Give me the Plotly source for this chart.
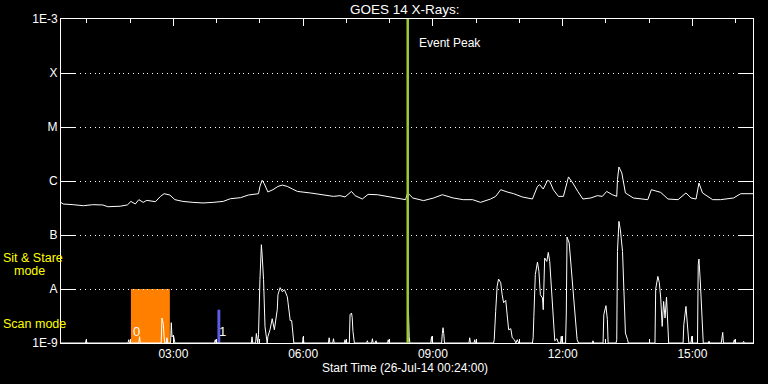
import math
import plotly.graph_objects as go

DAY = "2014-07-26 "
BASE = 1.0e-9

# ---- GOES long channel (1-8 A), W/m^2 ----
long_time = ["00:24","00:27","00:41","00:55","01:08","01:22","01:29","01:46","01:56","02:01",
             "02:07","02:12","02:18","02:23","02:35","02:42","02:47","02:55","03:02","03:13",
             "03:27","03:41","03:55","04:09","04:19","04:33","04:44","04:58","05:00","05:03",
             "05:06","05:11","05:18","05:25","05:31","05:38","05:45","05:52","06:10","06:28",
             "06:42","06:51","06:58","07:07","07:12","07:22","07:30","07:43","07:57","08:11",
             "08:22","08:25","08:32","08:47","09:01","09:13","09:28","09:42","09:55","10:06",
             "10:20","10:27","10:34","10:43","10:52","11:04","11:18","11:25","11:28","11:33",
             "11:39","11:42","11:47","11:54","12:01","12:08","12:14","12:21","12:28","12:39",
             "12:48","12:55","13:01","13:09","13:15","13:16","13:18","13:22","13:27","13:38",
             "13:58","14:03","14:12","14:16","14:26","14:40","14:51","14:58","15:05","15:09",
             "15:14","15:28","15:39","15:50","15:57","16:07","16:21","16:24"]
long_flux = [4.0e-7,3.75e-7,3.64e-7,3.49e-7,3.64e-7,3.6e-7,3.34e-7,3.41e-7,3.6e-7,4.19e-7,
             3.75e-7,4.51e-7,4.02e-7,4.38e-7,4.14e-7,5.19e-7,5.82e-7,5.5e-7,4.51e-7,4.19e-7,
             4.02e-7,3.92e-7,4.02e-7,4.19e-7,4.7e-7,4.91e-7,5.5e-7,5.82e-7,7.94e-7,1.03e-6,
             8.9e-7,6.26e-7,6.9e-7,7.94e-7,8.4e-7,7.94e-7,7.11e-7,6.41e-7,6.0e-7,5.57e-7,
             5.19e-7,5.35e-7,5.06e-7,6.41e-7,5.35e-7,4.64e-7,5.65e-7,5.57e-7,5.19e-7,4.85e-7,
             4.51e-7,6.0e-7,4.85e-7,4.33e-7,4.85e-7,5.57e-7,4.85e-7,4.51e-7,4.51e-7,4.02e-7,
             4.64e-7,5.19e-7,6.9e-7,6.26e-7,5.82e-7,5.06e-7,4.64e-7,7.94e-7,8.53e-7,7.11e-7,
             1.03e-6,9.85e-7,6.9e-7,5.19e-7,5.19e-7,1.19e-6,9.18e-7,6.41e-7,4.64e-7,4.85e-7,
             5.35e-7,5.19e-7,6.41e-7,5.57e-7,5.19e-7,1.06e-6,1.82e-6,1.41e-6,6.0e-7,4.85e-7,
             4.51e-7,6.9e-7,6.41e-7,6.15e-7,4.64e-7,4.51e-7,6.0e-7,4.85e-7,4.64e-7,9.18e-7,
             6.0e-7,4.51e-7,4.51e-7,4.64e-7,4.85e-7,5.82e-7,5.82e-7,5.82e-7]

# ---- GOES short channel (0.5-4 A), W/m^2 ----
B = BASE
short_time = [
    "00:24","00:58","00:59","01:00",
    "01:57","01:58","01:59",
    "02:12","02:13","02:14",
    "02:43","02:44","02:45","02:46","02:47","02:48",
    "02:50","02:51","02:52",
    "02:56","02:57","02:58","03:00","03:02",
    "03:57","03:58","03:59",
    "04:48","04:49","04:50",
    "04:54","04:55","04:57",
    "04:58","05:00","05:02","05:03","05:05","05:07","05:10",
    "05:11","05:14","05:17","05:20","05:24","05:25","05:28","05:31","05:34","05:38","05:39","05:42","05:44","05:46","05:47",
    "05:59","06:00","06:01",
    "06:35","06:36","06:37",
    "06:41","06:42","06:43",
    "06:57","06:58","06:59",
    "07:04","07:05","07:07","07:08","07:09","07:11",
    "07:28","07:29","07:30",
    "07:35","07:36","07:37",
    "07:40","07:41","07:42",
    "07:57","07:58","07:59",
    "08:25","08:26","08:27","08:28",
    "08:57","08:58","08:59",
    "09:12","09:13","09:14","09:15","09:16",
    "09:50","09:51","09:52",
    "09:57","09:58","09:59",
    "10:24","10:25","10:27","10:29","10:31","10:34","10:36","10:38","10:41","10:43","10:45","10:48","10:50","10:53","10:55","10:57","10:59",
    "11:18","11:19","11:20","11:22","11:25","11:27","11:29","11:32","11:33","11:35","11:38","11:40","11:42","11:45","11:47","11:49","11:52","11:54",
    "11:57","11:58","11:59",
    "12:04","12:05","12:06","12:09","12:11","12:13","12:16","12:18","12:20","12:22",
    "12:41","12:42","12:43",
    "12:56","12:57","13:00","13:02","13:03",
    "13:14","13:15","13:16","13:18","13:20","13:23","13:25","13:27","13:30","13:31",
    "14:08","14:09","14:12","14:14","14:16","14:18","14:20","14:22","14:24","14:26","14:27",
    "14:47","14:48","14:51","14:53","14:55",
    "14:58","14:59","15:00",
    "15:07","15:08","15:09","15:11","15:14","15:15",
    "15:22","15:23","15:24",
    "15:40","15:42","15:43",
    "15:57","15:58","15:59",
    "16:10","16:11","16:12",
    "16:24"]
short_flux = [
    B, B, 1.15e-9, B,
    B, 1.15e-9, B,
    B, 1.31e-9, B,
    B, 2.9e-9, 2.6e-9, 2.2e-9, 1.3e-9, B,
    B, 1.25e-9, B,
    B, 2.38e-9, 1.3e-9, 1.4e-9, B,
    B, 1.15e-9, B,
    B, 1.3e-9, B,
    B, 1.5e-9, B,
    1.42e-9, 1.49e-8, 6.61e-8, 4.32e-8, 1.49e-8, 2.0e-9, B,
    1.31e-9, 1.76e-9, 2.82e-9, 1.76e-9, 4.14e-9, 7.84e-9, 1.06e-8, 8.91e-9, 9.7e-9, 7.18e-9, 5.57e-9, 2.6e-9, 2.6e-9, 1.25e-9, B,
    B, 1.3e-9, B,
    B, 1.25e-9, B,
    B, 1.2e-9, B,
    B, 1.15e-9, B,
    B, 3.34e-9, 3.59e-9, 2.94e-9, 1.64e-9, B,
    B, 1.1e-9, B,
    B, 1.2e-9, B,
    B, 1.1e-9, B,
    B, 1.15e-9, B,
    B, 3.96e-9, 1.3e-9, B,
    B, 1.31e-9, B,
    B, 1.5e-9, 1.92e-9, 1.5e-9, B,
    B, 1.25e-9, B,
    B, 1.15e-9, B,
    B, 1.15e-9, 3.85e-9, 1.1e-8, 1.53e-8, 1.31e-8, 7.84e-9, 5.57e-9, 6.15e-9, 3.34e-9, 1.76e-9, 1.84e-9, 1.25e-9, 1.15e-9, B, 1.15e-9, B,
    B, 1.25e-9, 3.11e-9, 1.84e-8, 3.16e-8, 2.12e-8, 7.84e-9, 6.81e-9, 4.14e-9, 3.75e-8, 3.24e-8, 4.76e-8, 3.24e-8, 6.81e-9, 2.7e-9, 1.1e-9, 1.2e-9, B,
    B, 1.33e-9, B,
    B, 3.59e-9, 9.18e-8, 7.11e-8, 3.49e-8, 1.98e-8, 6.81e-9, 2.51e-9, 1.15e-9, B,
    B, 1.1e-9, B,
    B, 3.34e-9, 4.91e-9, 2.7e-9, B,
    B, 1.15e-9, 4.97e-8, 1.79e-7, 1.25e-7, 4.97e-8, 5.5e-9, 1.53e-9, 1.15e-9, B,
    B, 1.0e-8, 1.71e-8, 1.32e-8, 6.81e-9, 2.03e-9, 5.89e-9, 2.9e-9, 7.11e-9, 1.33e-9, B,
    B, 2.18e-9, 4.76e-9, 2.03e-9, B,
    B, 1.33e-9, B,
    B, 2.82e-8, 3.59e-8, 1.29e-8, 2.7e-9, B,
    B, 1.08e-9, B,
    B, 1.57e-9, B,
    B, 1.15e-9, B,
    B, 1.07e-9, B,
    B]
assert len(short_time) == len(short_flux), (len(short_time), len(short_flux))
assert len(long_time) == len(long_flux), (len(long_time), len(long_flux))

# ---- observation intervals ----
obs_start = ["02:01", "04:01"]
obs_end = ["02:55", "04:05"]
obs_top = [1.0e-8, 4.14e-9]
obs_label = ["0", "1"]
obs_color = ["#ff8000", "#5c5ce6"]

event_peak = "08:25"

x_range = ["00:24", "16:24"]
y_tickvals = [1e-9, 1e-8, 1e-7, 1e-6, 1e-5, 1e-4, 1e-3]
y_ticktext = ["1E-9", "A", "B", "C", "M", "X", "1E-3"]

FONT = "Liberation Sans"

fig = go.Figure()
fig.add_trace(go.Scatter(x=[DAY + t for t in long_time], y=long_flux, mode="lines",
                         line=dict(color="white", width=1), hoverinfo="skip"))
fig.add_trace(go.Scatter(x=[DAY + t for t in short_time], y=short_flux, mode="lines",
                         line=dict(color="white", width=1), hoverinfo="skip"))

shapes = []
annotations = []
for s, e, top, lab, col in zip(obs_start, obs_end, obs_top, obs_label, obs_color):
    shapes.append(dict(type="rect", xref="x", yref="y", x0=DAY + s, x1=DAY + e,
                       y0=BASE, y1=top, fillcolor=col, line=dict(width=0), layer="below"))
    annotations.append(dict(x=DAY + s, y=math.log10(BASE), xref="x", yref="y", text=lab,
                            showarrow=False, xanchor="left", yanchor="bottom",
                            xshift=0, yshift=2, font=dict(family=FONT, size=13, color="white")))

shapes.append(dict(type="line", xref="x", yref="paper", x0=DAY + event_peak, x1=DAY + event_peak,
                   y0=0, y1=1, line=dict(color="#9acd32", width=2.5), layer="above"))
annotations.append(dict(x=DAY + event_peak, y=(343 - 43) / 324, xref="x", yref="paper",
                        text="Event Peak", showarrow=False, xanchor="left", yanchor="middle",
                        xshift=9, font=dict(family=FONT, size=12, color="white")))

annotations.append(dict(x=0.497, y=(343 - 9) / 324, xref="paper", yref="paper",
                        text="GOES 14 X-Rays:", showarrow=False, xanchor="center", yanchor="middle",
                        font=dict(family=FONT, size=13.5, color="white")))
annotations.append(dict(x=0.497, y=(343 - 368) / 324, xref="paper", yref="paper",
                        text="Start Time (26-Jul-14 00:24:00)", showarrow=False,
                        xanchor="center", yanchor="middle",
                        font=dict(family=FONT, size=12, color="white")))
for txt, px, py in [("Sit &amp; Stare", 1, 258), ("mode", 12, 271), ("Scan mode", 1, 324)]:
    annotations.append(dict(x=(px - 61) / 692, y=(343 - py) / 324, xref="paper", yref="paper",
                            text=txt, showarrow=False, xanchor="left", yanchor="middle",
                            font=dict(family=FONT, size=12.5, color="#ffff00")))

fig.update_layout(
    width=768, height=384,
    margin=dict(l=61, r=15, t=19, b=41, pad=0),
    paper_bgcolor="black", plot_bgcolor="black",
    showlegend=False,
    font=dict(family=FONT, size=12, color="white"),
    shapes=shapes, annotations=annotations,
    xaxis=dict(type="date", range=[DAY + x_range[0], DAY + x_range[1]],
               tick0=DAY + "00:00", dtick=3 * 3600000, tickformat="%H:%M",
               ticks="inside", ticklen=7, tickcolor="white", tickwidth=1,
               showline=True, linecolor="white", linewidth=1, mirror="allticks",
               showgrid=False, zeroline=False,
               tickfont=dict(family=FONT, size=12, color="white"),
               minor=dict(dtick=3600000, tick0=DAY + "00:00", ticks="inside", ticklen=4,
                          tickcolor="white", showgrid=False)),
    yaxis=dict(type="log", range=[-9, -3], tickvals=y_tickvals, ticktext=y_ticktext,
               ticks="inside", ticklen=14, tickcolor="white", tickwidth=1,
               showline=True, linecolor="white", linewidth=1, mirror="allticks",
               showgrid=True, gridcolor="white", gridwidth=1, griddash="1px,3.8px",
               zeroline=False, tickfont=dict(family=FONT, size=12, color="white")),
)

fig.write_html("out.html", config={"displayModeBar": False},
               post_script="document.body.style.margin='0';document.body.style.background='black';")
